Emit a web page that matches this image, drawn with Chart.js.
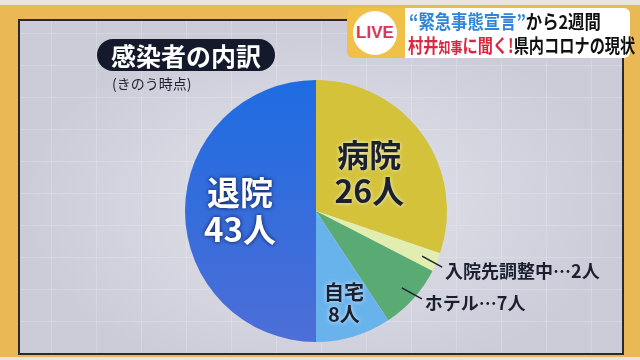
<!DOCTYPE html>
<html>
<head>
<meta charset="utf-8">
<script src="https://cdn.jsdelivr.net/npm/chart.js@4.4.1/dist/chart.umd.min.js"></script>
<style>
  html, body { margin: 0; padding: 0; }
  body { width: 640px; height: 360px; position: relative; overflow: hidden; background: #e9e4e2; font-family: "Noto Sans CJK JP", sans-serif; }
  #frame { position: absolute; left: 0; top: 5px; width: 640px; height: 352px; background: #eab955; }
  #panel {
    position: absolute; left: 18px; top: 19px; width: 606px; height: 336px;
    border: 2px solid #2a2a2e; box-sizing: border-box;
    background-color: #cbccd8;
    background-image:
      radial-gradient(ellipse at 50% 55%, rgba(235,236,242,0.75) 0%, rgba(235,236,242,0) 70%),
      linear-gradient(rgba(255,255,255,0.2) 1px, transparent 1px),
      linear-gradient(90deg, rgba(255,255,255,0.2) 1px, transparent 1px);
    background-size: 100% 100%, 45px 32px, 45px 32px;
    background-position: 0 0, 0 12px, 31px 0;
  }
  #chartWrap { position: absolute; left: 0; top: 0; width: 640px; height: 360px; }
  #title {
    position: absolute; left: 97px; top: 39px; width: 178px; height: 32px;
    background: #141a2c; border-radius: 16px; color: #fff;
    font-size: 25px; font-weight: bold; line-height: 32px; text-align: center;
  }
  #sub { position: absolute; left: 112px; top: 73px; font-size: 14px; color: #1e2230; }
  #live { position: absolute; left: 347px; top: 8px; width: 60px; height: 50px; background: #f0c048; border-radius: 6px 0 0 6px; }
  #live div {
    position: absolute; left: 6px; top: 3px; width: 44px; height: 44px; border-radius: 50%;
    background: #fff; color: #d23a55; font-size: 17px; font-weight: bold; text-align: center; line-height: 44px;
    font-family: "Liberation Sans", sans-serif;
  }
  #banner {
    position: absolute; left: 405px; top: 8px; width: 225px; height: 50px; background: #fff;
    border-radius: 0 6px 6px 0; font-weight: bold; color: #111; font-size: 19px; line-height: 24px;
  }
  #banner .l1 { position: absolute; left: 4px; top: 1px; white-space: nowrap; transform: scaleX(0.86); transform-origin: 0 0; }
  #banner .l2 { position: absolute; left: 3px; top: 25px; white-space: nowrap; transform: scaleX(0.8); transform-origin: 0 0; }
  .blue { color: #2f86d8; }
  .red { color: #d8283f; }
</style>
</head>
<body>
<div id="frame"></div>
<div id="panel"></div>
<div id="chartWrap"><canvas id="pie" width="640" height="360"></canvas></div>
<div id="title">感染者の内訳</div>
<div id="sub">(きのう時点)</div>
<div id="live"><div>LIVE</div></div>
<div id="banner">
  <div class="l1"><span class="blue">“緊急事態宣言”</span>から2週間</div>
  <div class="l2"><span class="red">村井<span style="font-size:15px">知事</span>に聞く!</span>県内コロナの現状</div>
</div>
<script>
// slices, clockwise from 12 o'clock
const categories = ['病院', '入院先調整中', 'ホテル', '自宅', '退院'];
const counts = [26, 2, 7, 8, 43];
const sliceColors = ['#d3c23a', '#e2edb0', '#5aab73', '#69b3ec', '#2a6ddf'];

const FONT = '"Noto Sans CJK JP", sans-serif';

// inside labels: index, radius fraction, font size, colour
const insideLabels = [
  { i: 0, r: 0.5, size: 32, color: '#1b2030', glow: 'rgba(255,255,255,0.8)' },
  { i: 3, r: 0.74, size: 20, color: '#1b2030', glow: 'rgba(255,255,255,0.8)' },
  { i: 4, r: 0.58, size: 33, color: '#ffffff', glow: 'rgba(0,0,40,0.8)' }
];
// slices labelled outside with a leader line
const outsideLabels = [0, 1, 1, 0, 0];

const labelPlugin = {
  id: 'sliceLabels',
  afterDatasetsDraw(chart) {
    const ctx = chart.ctx;
    const meta = chart.getDatasetMeta(0);
    ctx.save();
    ctx.textAlign = 'center';
    ctx.textBaseline = 'middle';
    insideLabels.forEach(l => {
      const arc = meta.data[l.i];
      const mid = (arc.startAngle + arc.endAngle) / 2;
      const x = arc.x + Math.cos(mid) * arc.outerRadius * l.r;
      const y = arc.y + Math.sin(mid) * arc.outerRadius * l.r;
      ctx.font = 'bold ' + l.size + 'px ' + FONT;
      ctx.fillStyle = l.color;
      ctx.shadowColor = l.glow;
      ctx.shadowBlur = 4;
      const gap = l.size * 0.55;
      ctx.fillText(categories[l.i], x, y - gap);
      ctx.fillText(counts[l.i] + '人', x, y + gap);
    });
    ctx.shadowBlur = 0;
    ctx.textAlign = 'left';
    ctx.font = 'bold 18px ' + FONT;
    meta.data.forEach((arc, i) => {
      if (!outsideLabels[i]) return;
      const mid = (arc.startAngle + arc.endAngle) / 2;
      const sx = arc.x + Math.cos(mid) * arc.outerRadius * 0.88;
      const sy = arc.y + Math.sin(mid) * arc.outerRadius * 0.88;
      const ex = sx + 20, ey = sy + 11;
      ctx.strokeStyle = '#1b2030';
      ctx.lineWidth = 1.5;
      ctx.beginPath();
      ctx.moveTo(sx, sy);
      ctx.lineTo(ex, ey);
      ctx.stroke();
      ctx.fillStyle = '#1b2030';
      ctx.fillText(categories[i] + '…' + counts[i] + '人', ex + 3, ey + 4);
    });
    ctx.restore();
  }
};

new Chart(document.getElementById('pie'), {
  type: 'pie',
  data: {
    labels: categories,
    datasets: [{
      data: counts,
      backgroundColor: c => {
        if (c.dataIndex !== 4 || !c.chart.chartArea) return sliceColors[c.dataIndex];
        const a = c.chart.chartArea;
        const g = c.chart.ctx.createLinearGradient(0, a.top, 0, a.bottom);
        g.addColorStop(0, '#1e6ce2');
        g.addColorStop(1, '#4d6ed6');
        return g;
      },
      borderWidth: 0
    }]
  },
  options: {
    responsive: false,
    animation: false,
    rotation: 0,
    layout: { padding: { left: 185, right: 193, top: 80, bottom: 18 } },
    plugins: { legend: { display: false }, tooltip: { enabled: false } }
  },
  plugins: [labelPlugin]
});
</script>
</body>
</html>
